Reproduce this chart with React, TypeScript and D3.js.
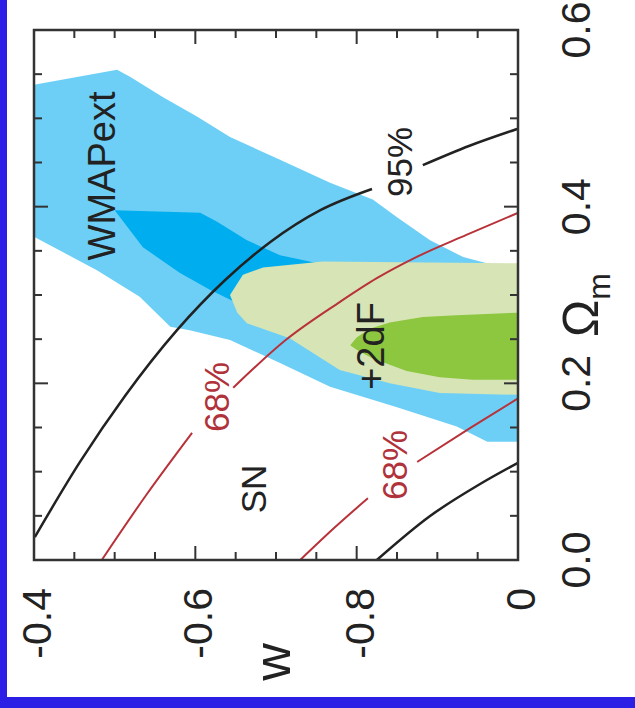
import React from "react";
import * as d3 from "d3";

// all points are [Omega_m, w]
const wmap95 = [
  [0.538, -0.4], [0.555, -0.503], [0.547, -0.519], [0.524, -0.56], [0.502, -0.602],
  [0.479, -0.643], [0.453, -0.705], [0.427, -0.767], [0.408, -0.82], [0.388, -0.85],
  [0.362, -0.891], [0.343, -0.932], [0.335, -0.965], [0.334, -1.0], [0.134, -1.0],
  [0.134, -0.962], [0.151, -0.924], [0.173, -0.85], [0.196, -0.767], [0.223, -0.705],
  [0.249, -0.643], [0.26, -0.593], [0.264, -0.569], [0.298, -0.531], [0.328, -0.478],
  [0.366, -0.4],
];

const wmap68 = [
  [0.396, -0.5], [0.393, -0.606], [0.383, -0.627], [0.362, -0.664], [0.345, -0.705],
  [0.337, -0.746], [0.331, -0.767], [0.294, -0.73], [0.292, -0.649], [0.306, -0.618],
  [0.325, -0.581], [0.354, -0.535],
];

const df95 = [
  [0.3, -0.643], [0.323, -0.659], [0.331, -0.684], [0.338, -0.758], [0.337, -0.854],
  [0.336, -1.0], [0.187, -1.0], [0.189, -0.903], [0.2, -0.841], [0.215, -0.779],
  [0.251, -0.717], [0.268, -0.664], [0.28, -0.652],
];

const df68 = [
  [0.243, -0.792], [0.252, -0.8], [0.258, -0.81], [0.263, -0.82], [0.269, -0.841],
  [0.275, -0.882], [0.277, -0.924], [0.28, -1.0], [0.204, -1.0], [0.204, -0.944],
  [0.207, -0.903], [0.214, -0.862], [0.221, -0.841], [0.228, -0.82], [0.233, -0.81],
  [0.238, -0.8],
];

// SN contours, split where the labels sit
const sn95 = [
  [[0.026, -0.401], [0.111, -0.457], [0.186, -0.513], [0.26, -0.577], [0.317, -0.637],
   [0.36, -0.693], [0.396, -0.755], [0.42, -0.819]],
  [[0.447, -0.882], [0.469, -0.94], [0.488, -0.999]],
  [[0.0, -0.825], [0.0498, -0.891], [0.086, -0.953], [0.11, -1.0]],
];

const sn68 = [
  [[0.0, -0.484], [0.0747, -0.54], [0.144, -0.596]],
  [[0.195, -0.647], [0.249, -0.712], [0.292, -0.779], [0.319, -0.825], [0.342, -0.872],
   [0.368, -0.936], [0.393, -1.0]],
  [[0.0, -0.73], [0.037, -0.773], [0.07, -0.814]],
  [[0.111, -0.875], [0.149, -0.94], [0.183, -1.0]],
];

const wTicks = ["-0.4", "-0.6", "-0.8", "0"];
const omTicks = ["0.0", "0.2", "0.4", "0.6"];

const font = "'Liberation Sans', Arial, Helvetica, sans-serif";

export default function App() {
  const x = d3.scaleLinear().domain([-0.4, -1.0]).range([34, 518]);
  const y = d3.scaleLinear().domain([0, 0.6]).range([560, 30]);

  const area = d3.line<number[]>().x(d => x(d[1])).y(d => y(d[0]));
  const curve = d3.line<number[]>().x(d => x(d[1])).y(d => y(d[0])).curve(d3.curveMonotoneX);

  const wMinor = d3.range(0, 13).map(i => -0.4 - i * 0.05);
  const omMinor = d3.range(0, 13).map(i => i * 0.05);
  const isMajor = (v: number) => Math.abs(Math.round(v * 5) - v * 5) < 1e-6;

  const [x0, x1] = x.range();
  const [y0, y1] = y.range();

  return (
    <svg width={635} height={708} style={{ position: "absolute", left: 0, top: 0 }} fontFamily={font}>
      <rect width={635} height={708} fill="#fff" />
      <rect x={0} y={0} width={7} height={708} fill="#2b1fe6" />
      <rect x={0} y={697} width={635} height={11} fill="#2b1fe6" />
      <defs>
        <clipPath id="plot">
          <rect x={x0} y={y1} width={x1 - x0} height={y0 - y1} />
        </clipPath>
      </defs>
      <g clipPath="url(#plot)">
        <path d={area(wmap95) + "Z"} fill="#6dcff6" />
        <path d={area(wmap68) + "Z"} fill="#00aeef" />
        <path d={area(df95) + "Z"} fill="#d7e4b5" />
        <path d={area(df68) + "Z"} fill="#8dc63f" />
        {sn95.map((s, i) => (
          <path key={"b" + i} d={curve(s) || ""} fill="none" stroke="#222" strokeWidth={2.5} />
        ))}
        {sn68.map((s, i) => (
          <path key={"r" + i} d={curve(s) || ""} fill="none" stroke="#b8323a" strokeWidth={2} />
        ))}
      </g>
      <rect x={x0} y={y1} width={x1 - x0} height={y0 - y1} fill="none" stroke="#333" strokeWidth={2.5} />
      {wMinor.map((v, i) => {
        const len = isMajor(v) ? 14 : 8;
        return (
          <g key={"wt" + i} stroke="#333" strokeWidth={2}>
            <line x1={x(v)} x2={x(v)} y1={y0} y2={y0 - len} />
            <line x1={x(v)} x2={x(v)} y1={y1} y2={y1 + len} />
          </g>
        );
      })}
      {omMinor.map((v, i) => {
        const len = isMajor(v) ? 14 : 8;
        return (
          <g key={"ot" + i} stroke="#333" strokeWidth={2}>
            <line x1={x0} x2={x0 + len} y1={y(v)} y2={y(v)} />
            <line x1={x1} x2={x1 - len} y1={y(v)} y2={y(v)} />
          </g>
        );
      })}
      {wTicks.map((t, i) => (
        <text key={"wl" + i} transform={`translate(${x(-0.4 - i * 0.2) + 3},588) rotate(-90)`}
          textAnchor="end" dominantBaseline="central" fontSize={41} fill="#222">{t}</text>
      ))}
      {omTicks.map((t, i) => (
        <text key={"ol" + i} transform={`translate(590,${y(i * 0.2)}) rotate(-90)`}
          textAnchor="middle" fontSize={41} fill="#222">{t}</text>
      ))}
      <text transform="translate(598,305) rotate(-90)" textAnchor="middle" fontSize={50} fill="#222">
        Ω<tspan fontSize={32} dy={12}>m</tspan>
      </text>
      <text transform="translate(272,662) rotate(-90)" textAnchor="middle" dominantBaseline="central" fontSize={52} fill="#222">w</text>
      <g fontSize={35} textAnchor="middle" dominantBaseline="central">
        <text transform="translate(102,176) rotate(-90)" fontSize={38} fill="#222">WMAPext</text>
        <text transform="translate(399,162) rotate(-90)" fill="#222">95%</text>
        <text transform="translate(371,346) rotate(-90)" fontSize={38} fill="#222">+2dF</text>
        <text transform="translate(253,489) rotate(-90)" fill="#222">SN</text>
        <text transform="translate(216,397) rotate(-90)" fill="#b0323a">68%</text>
        <text transform="translate(394,465) rotate(-90)" fill="#b0323a">68%</text>
      </g>
    </svg>
  );
}
